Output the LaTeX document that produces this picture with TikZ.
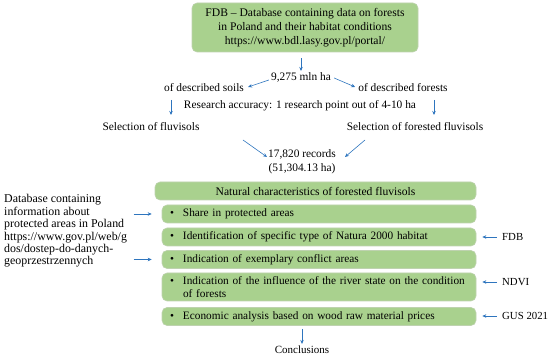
\documentclass[tikz,border=0pt]{standalone}
\usepackage{fontspec}
\setmainfont{Liberation Serif}
\usetikzlibrary{arrows.meta}
\definecolor{boxgreen}{RGB}{169,209,142}
\definecolor{boxedge}{RGB}{190,210,175}
\definecolor{arrblue}{RGB}{46,117,190}
\begin{document}
\begin{tikzpicture}[x=1pt,y=-1pt,
  every node/.style={font=\fontsize{11.4}{13}\selectfont, inner sep=0pt},
  gbox/.style={fill=boxgreen, draw=boxedge, line width=0.6pt, rounded corners=5pt},
  itembox/.style={gbox, minimum width=314pt, minimum height=18pt, text width=298pt, inner xsep=8pt, align=left},
  itemfont/.style={font=\fontsize{11.3}{12.5}\selectfont},
  labfont/.style={font=\fontsize{10.8}{12.5}\selectfont},
  arr/.style={draw=arrblue, line width=0.6pt, -{Stealth[length=4pt,width=3.5pt]}},
  plain/.style={align=center}]
\useasboundingbox (0,0) rectangle (550,358);
% top
\node[gbox, minimum width=226pt, minimum height=49pt, align=center, font=\fontsize{11.6}{14}\selectfont] (top) at (305,27.5)
  {FDB -- Database containing data on forests\\in Poland and their habitat conditions\\https://www.bdl.lasy.gov.pl/portal/};
\node (n9275) at (301,77) {9,275 mln ha};
\node (soils) at (204,88) {of described soils};
\node (forests) at (403,88) {of described forests};
\node (research) at (300,106) {Research accuracy: 1 research point out of 4-10 ha};
\node (selfl) at (151,127) {Selection of fluvisols};
\node (selfor) at (415,127) {Selection of forested fluvisols};
\node[plain, font=\fontsize{11.4}{14}\selectfont] (records) at (302,162) {17,820 records\\(51,304.13 ha)};
% lower
\node[gbox, minimum width=321pt, minimum height=18pt, font=\fontsize{11.6}{13}\selectfont] (header) at (315.5,191) {Natural characteristics of forested fluvisols};
\node[itembox, itemfont] (i1) at (319,214) {\makebox[13pt][l]{\textbullet}Share in protected areas};
\node[itembox, itemfont] (i2) at (319,237) {\makebox[13pt][l]{\textbullet}Identification of specific type of Natura 2000 habitat};
\node[itembox, itemfont] (i3) at (319,259.5) {\makebox[13pt][l]{\textbullet}Indication of exemplary conflict areas};
\node[itembox, itemfont, minimum height=28pt] (i4) at (319,287) {\makebox[13pt][l]{\textbullet}Indication of the influence of the river state on the condition\\\hspace*{13pt}of forests};
\node[itembox, itemfont] (i5) at (319,316.5) {\makebox[13pt][l]{\textbullet}Economic analysis based on wood raw material prices};
\node[align=left, anchor=west, font=\fontsize{11.9}{12.4}\selectfont] (left) at (4,231)
  {Database containing\\information about\\protected areas in Poland\\https://www.gov.pl/web/g\\dos/dostep-do-danych-\\geoprzestrzennych};
\node[anchor=west, labfont] (fdb) at (502,237) {FDB};
\node[anchor=west, labfont] (ndvi) at (502,282) {NDVI};
\node[anchor=west, labfont] (gus) at (502,316) {GUS 2021};
\node[font=\fontsize{11}{13}\selectfont] (concl) at (302,350) {Conclusions};
% arrows
\draw[arr] ([yshift=-6pt]top.south -| n9275.north) -- ([yshift=1pt]n9275.north);
\draw[arr] ([xshift=-2pt,yshift=-3pt]n9275.west) -- ([xshift=4pt,yshift=1pt]soils.east);
\draw[arr] ([xshift=3pt,yshift=-1pt]n9275.east) -- ([xshift=-3pt,yshift=1pt]forests.west);
\draw[arr] ([xshift=-33pt,yshift=-12pt]soils.center) -- ([xshift=20pt,yshift=12pt]selfl.center);
\draw[arr] ([xshift=31pt,yshift=-12pt]forests.center) -- ([xshift=19pt,yshift=12pt]selfor.center);
\draw[arr] ([xshift=92pt,yshift=-13pt]selfl.center) -- ([xshift=-35pt,yshift=5pt]records.center);
\draw[arr] ([xshift=-50pt,yshift=-13pt]selfor.center) -- ([xshift=43pt,yshift=5pt]records.center);
\draw[arr] ([xshift=-28pt]i1.west) -- ([xshift=-10pt]i1.west);
\draw[arr] ([xshift=-28pt]i3.west) -- ([xshift=-10pt]i3.west);
\draw[arr] ([xshift=-5pt]fdb.west) -- ([xshift=6pt]fdb.west -| i2.east);
\draw[arr] ([xshift=-5pt]ndvi.west) -- ([xshift=6pt]ndvi.west -| i4.east);
\draw[arr] ([xshift=-5pt]gus.west) -- ([xshift=6pt]gus.west -| i5.east);
\draw[arr] ([yshift=-3pt]i5.south -| concl.north) -- ([yshift=2pt]concl.north);
\end{tikzpicture}
\end{document}
